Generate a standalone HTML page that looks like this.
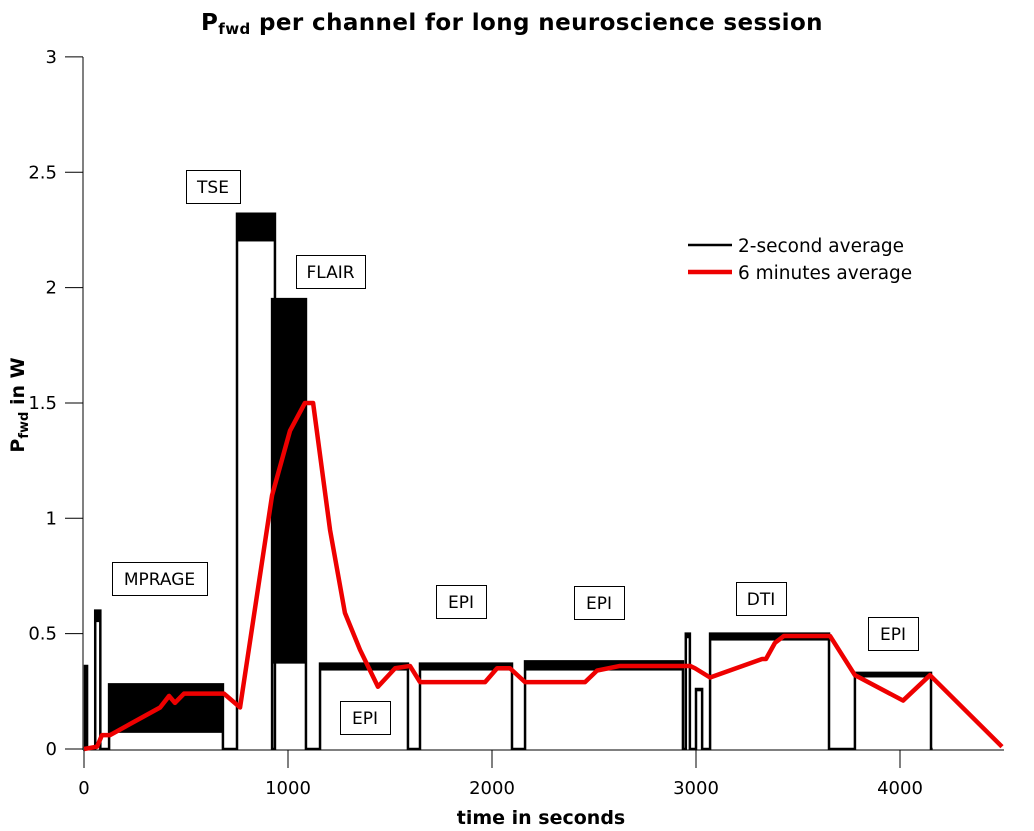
<!DOCTYPE html>
<html><head><meta charset="utf-8"><style>
body{margin:0;background:#fff;}
svg{display:block;font-family:"DejaVu Sans","Liberation Sans",sans-serif;}
</style></head><body>
<svg id="chart" width="1034" height="831">
<text x="512" y="30" text-anchor="middle" font-size="23" font-weight="bold" letter-spacing="0.4">P<tspan font-size="15" dy="4">fwd</tspan><tspan dy="-4"> per channel for long neuroscience session</tspan></text>
<text x="541" y="824" text-anchor="middle" font-size="19" font-weight="bold">time in seconds</text>
<text transform="translate(24,405) rotate(-90)" text-anchor="middle" font-size="19" font-weight="bold">P<tspan font-size="13" dy="4">fwd</tspan><tspan dy="-4"> in W</tspan></text>
<g id="axes"></g>
<g id="marks"></g>
<g>
<line x1="688" y1="245" x2="732" y2="245" stroke="#000" stroke-width="2.5"/>
<text x="738" y="252" font-size="18.5">2-second average</text>
<line x1="688" y1="272" x2="732" y2="272" stroke="#e00" stroke-width="4.5"/>
<text x="738" y="279" font-size="18.5">6 minutes average</text>
</g>
<g id="labels" font-size="17"></g>
</svg>
<script>
const xTicks=[0,1000,2000,3000,4000];
const yTicks=[0,0.5,1,1.5,2,2.5,3];
const yTickLabels=["0","0.5","1","1.5","2","2.5","3"];
// black 2-second segments: start, end, low, high
const segStart=[5,55,123,750,922,1157,1647,2162,2950,3000,3069,3779];
const segEnd=[15,80,681,936,1088,1588,2098,2936,2970,3030,3652,4152];
const segLow=[0.3,0.55,0.07,2.2,0.37,0.34,0.34,0.34,0.48,0.25,0.47,0.31];
const segHigh=[0.36,0.6,0.28,2.32,1.95,0.37,0.37,0.38,0.5,0.26,0.5,0.33];
// red 6-minute average
const avgT=[0,64,88,127,373,417,446,490,686,765,922,1010,1083,1123,1206,1279,1353,1441,1525,1598,1647,1966,2025,2088,2162,2456,2515,2627,2971,2995,3069,3324,3343,3387,3431,3657,3779,4015,4147,4500];
const avgV=[0,0.01,0.06,0.06,0.18,0.23,0.20,0.24,0.24,0.18,1.10,1.38,1.50,1.50,0.95,0.59,0.43,0.27,0.35,0.36,0.29,0.29,0.35,0.35,0.29,0.29,0.34,0.36,0.36,0.35,0.31,0.39,0.39,0.46,0.49,0.49,0.32,0.21,0.32,0.01];
const labelText=["MPRAGE","TSE","FLAIR","EPI","EPI","EPI","DTI","EPI"];
const labelBox=[[112,562,95,33],[186,170,54,33],[296,255,69,33],[340,701,50,33],[436,585,50,33],[574,586,50,33],[736,582,50,33],[868,617,50,33]];
const X=t=>84+t*0.204, Y=v=>749-v*230.7;
const NS="http://www.w3.org/2000/svg";
function mk(tag,attrs,parent){const e=document.createElementNS(NS,tag);for(const k in attrs)e.setAttribute(k,attrs[k]);parent.appendChild(e);return e;}
const axes=document.getElementById('axes'),marks=document.getElementById('marks'),labels=document.getElementById('labels');
let a=mk('line',{x1:83,y1:57,x2:83,y2:750,stroke:'#000','stroke-width':1},axes);


a=mk('line',{x1:83,y1:750,x2:1004,y2:750,stroke:'#000','stroke-width':1},axes);


xTicks.forEach(t=>{mk('line',{x1:X(t),y1:750,x2:X(t),y2:768,stroke:'#000'},axes);
const tx=mk('text',{x:X(t),y:794,'text-anchor':'middle','font-size':18},axes);tx.textContent=t;

});
yTicks.forEach((v,i)=>{mk('line',{x1:65,y1:Y(v),x2:83,y2:Y(v),stroke:'#000'},axes);
const tx=mk('text',{x:57,y:Y(v)+6,'text-anchor':'end','font-size':18},axes);tx.textContent=yTickLabels[i];

});
let d='M'+X(0)+','+Y(0);
segStart.forEach((s,i)=>{d+=' L'+X(s)+','+Y(0)+' L'+X(s)+','+Y(segHigh[i])+' L'+X(segEnd[i])+','+Y(segHigh[i])+' L'+X(segEnd[i])+','+Y(0);
const r=mk('rect',{x:X(s),y:Y(segHigh[i]),width:X(segEnd[i])-X(s),height:Y(segLow[i])-Y(segHigh[i]),fill:'#000'},marks);

});
d+=' L'+X(4160)+','+Y(0);
const p=mk('path',{d:d,fill:'none',stroke:'#000','stroke-width':2.5},marks);


const rl=mk('polyline',{points:avgT.map((t,i)=>X(t)+','+Y(avgV[i])).join(' '),fill:'none',stroke:'#e00','stroke-width':4.5,'stroke-linejoin':'round'},marks);


labelText.forEach((s,i)=>{const b=labelBox[i];
const r=mk('rect',{x:b[0]+0.5,y:b[1]+0.5,width:b[2],height:b[3],fill:'#fff',stroke:'#000'},labels);


const t=mk('text',{x:b[0]+b[2]/2,y:b[1]+23,'text-anchor':'middle'},labels);t.textContent=s;

});
</script>
</body></html>
